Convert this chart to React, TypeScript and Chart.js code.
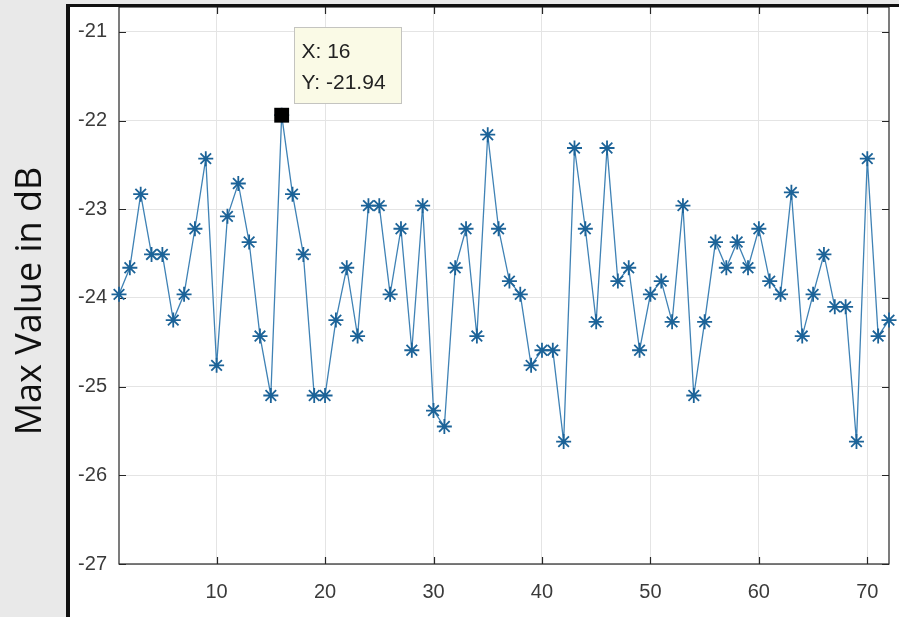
import React, { useEffect, useRef } from "react";
import { Chart, registerables } from "chart.js";

Chart.register(...registerables);

// ---- data ----
const sampleIndex = [
  1, 2, 3, 4, 5, 6, 7, 8, 9, 10, 11, 12, 13, 14, 15, 16, 17, 18,
  19, 20, 21, 22, 23, 24, 25, 26, 27, 28, 29, 30, 31, 32, 33, 34, 35, 36,
  37, 38, 39, 40, 41, 42, 43, 44, 45, 46, 47, 48, 49, 50, 51, 52, 53, 54,
  55, 56, 57, 58, 59, 60, 61, 62, 63, 64, 65, 66, 67, 68, 69, 70, 71, 72,
];
const maxValueDb = [
  -23.96, -23.66, -22.83, -23.51, -23.51, -24.25, -23.96, -23.22, -22.43, -24.76,
  -23.08, -22.71, -23.37, -24.43, -25.1, -21.94, -22.83, -23.51, -25.1, -25.1,
  -24.25, -23.66, -24.43, -22.96, -22.96, -23.96, -23.22, -24.59, -22.96, -25.27,
  -25.45, -23.66, -23.22, -24.43, -22.16, -23.22, -23.81, -23.96, -24.76, -24.59,
  -24.59, -25.62, -22.31, -23.22, -24.27, -22.31, -23.81, -23.66, -24.59, -23.96,
  -23.81, -24.27, -22.96, -25.1, -24.27, -23.37, -23.66, -23.37, -23.66, -23.22,
  -23.81, -23.96, -22.81, -24.43, -23.96, -23.51, -24.1, -24.1, -25.62, -22.43,
  -24.43, -24.25,
];
const xTickValues = [10, 20, 30, 40, 50, 60, 70];
const yTickValues = [-27, -26, -25, -24, -23, -22, -21];
const xRange = [1, 72];
const yRange = [-27, -20.72];
const dataTipX = 16;
const dataTipY = -21.94;
const yAxisTitle = "Max Value in dB";

const TICK_FONT = '"Liberation Sans", Arial, Helvetica, sans-serif';

const decorPlugin = {
  id: "decor",
  beforeDraw(chart: any) {
    const { ctx, width, height } = chart;
    ctx.save();
    ctx.fillStyle = "#e9e9e9";
    ctx.fillRect(0, 0, width, height);
    ctx.fillStyle = "#ffffff";
    ctx.fillRect(68, 6, width - 68, height - 6);
    ctx.restore();
  },
  beforeDatasetsDraw(chart: any) {
    const { ctx, chartArea } = chart;
    const xs = chart.scales.x;
    const ys = chart.scales.y;
    const { left, right, top, bottom } = chartArea;
    ctx.save();
    ctx.strokeStyle = "#262626";
    ctx.lineWidth = 1.2;
    ctx.strokeRect(left, top, right - left, bottom - top);
    ctx.beginPath();
    const tl = 7;
    xTickValues.forEach((v) => {
      const px = Math.round(xs.getPixelForValue(v)) + 0.5;
      ctx.moveTo(px, bottom);
      ctx.lineTo(px, bottom - tl);
      ctx.moveTo(px, top);
      ctx.lineTo(px, top + tl);
    });
    yTickValues.forEach((v) => {
      const py = Math.round(ys.getPixelForValue(v)) + 0.5;
      ctx.moveTo(left, py);
      ctx.lineTo(left + tl, py);
      ctx.moveTo(right, py);
      ctx.lineTo(right - tl, py);
    });
    ctx.stroke();
    ctx.restore();
  },
  afterDraw(chart: any) {
    const { ctx, width, height } = chart;
    const xs = chart.scales.x;
    const ys = chart.scales.y;
    ctx.save();
    // outer frame
    ctx.fillStyle = "#111111";
    ctx.fillRect(66, 4, 4, height - 4);
    ctx.fillRect(66, 4, width - 66, 3);
    // y axis title
    ctx.fillStyle = "#111111";
    ctx.font = '36px "Open Sans", "Noto Sans", sans-serif';
    ctx.textAlign = "center";
    ctx.textBaseline = "middle";
    ctx.translate(31, 301);
    ctx.rotate(-Math.PI / 2);
    ctx.fillText(yAxisTitle, 0, 0);
    ctx.restore();

    // data tip box
    const px = xs.getPixelForValue(dataTipX);
    const py = ys.getPixelForValue(dataTipY);
    const bx = Math.round(px + 12.5) + 0.5;
    const by = Math.round(py - 88) + 0.5;
    const bw = 107;
    const bh = 76;
    ctx.save();
    ctx.fillStyle = "#fafae6";
    ctx.fillRect(bx, by, bw, bh);
    ctx.strokeStyle = "#c4c4c0";
    ctx.lineWidth = 1;
    ctx.strokeRect(bx, by, bw, bh);
    ctx.fillStyle = "#222222";
    ctx.font = `21px ${TICK_FONT}`;
    ctx.textAlign = "left";
    ctx.textBaseline = "middle";
    ctx.fillText(`X: ${dataTipX}`, bx + 7, by + 25);
    ctx.fillText(`Y: ${dataTipY.toFixed(2)}`, bx + 7, by + 56);
    ctx.restore();
  },
};

export default function App() {
  const canvasRef = useRef<HTMLCanvasElement | null>(null);

  useEffect(() => {
    const canvas = canvasRef.current;
    if (!canvas) return;
    const chart = new Chart(canvas, {
      type: "line",
      data: {
        datasets: [
          {
            label: "tip",
            data: [{ x: dataTipX, y: dataTipY }],
            showLine: false,
            pointStyle: "rect",
            pointRadius: 10.5,
            pointBackgroundColor: "#000000",
            pointBorderColor: "#000000",
            pointBorderWidth: 0,
            order: 0,
            clip: false,
          },
          {
            label: "Max Value",
            data: sampleIndex.map((x, i) => ({ x, y: maxValueDb[i] })),
            borderColor: "#3f82b5",
            borderWidth: 1.3,
            tension: 0,
            fill: false,
            pointStyle: "star",
            pointRadius: 7.5,
            pointBorderColor: "#1c6398",
            pointBackgroundColor: "#1c6398",
            pointBorderWidth: 1.8,
            order: 1,
            clip: false,
          },
        ],
      } as any,
      options: {
        responsive: false,
        animation: false,
        events: [],
        layout: { autoPadding: false, padding: { left: 0, top: 7, right: 10, bottom: 0 } },
        plugins: {
          legend: { display: false },
          tooltip: { enabled: false },
        },
        scales: {
          x: {
            type: "linear",
            min: xRange[0],
            max: xRange[1],
            afterBuildTicks: (s: any) => {
              s.ticks = xTickValues.map((v) => ({ value: v }));
            },
            afterFit: (s: any) => {
              s.height = 53;
              s.paddingLeft = 0;
              s.paddingRight = 0;
            },
            grid: { color: "#e4e4e4", lineWidth: 1, drawTicks: false },
            border: { display: false },
            ticks: {
              font: { family: TICK_FONT, size: 20 },
              color: "#3a3a3a",
              padding: 16,
              maxRotation: 0,
              autoSkip: false,
            },
          },
          y: {
            type: "linear",
            min: yRange[0],
            max: yRange[1],
            afterBuildTicks: (s: any) => {
              s.ticks = yTickValues.map((v) => ({ value: v }));
            },
            afterFit: (s: any) => {
              s.width = 119;
              s.paddingTop = 0;
              s.paddingBottom = 0;
            },
            grid: { color: "#e4e4e4", lineWidth: 1, drawTicks: false },
            border: { display: false },
            ticks: {
              font: { family: TICK_FONT, size: 20 },
              color: "#3a3a3a",
              padding: 12,
              autoSkip: false,
            },
          },
        },
      } as any,
      plugins: [decorPlugin],
    });
    return () => chart.destroy();
  }, []);

  return (
    <div style={{ position: "absolute", left: 0, top: 0, width: 899, height: 617 }}>
      <canvas ref={canvasRef} width={899} height={617} style={{ display: "block" }} />
    </div>
  );
}
